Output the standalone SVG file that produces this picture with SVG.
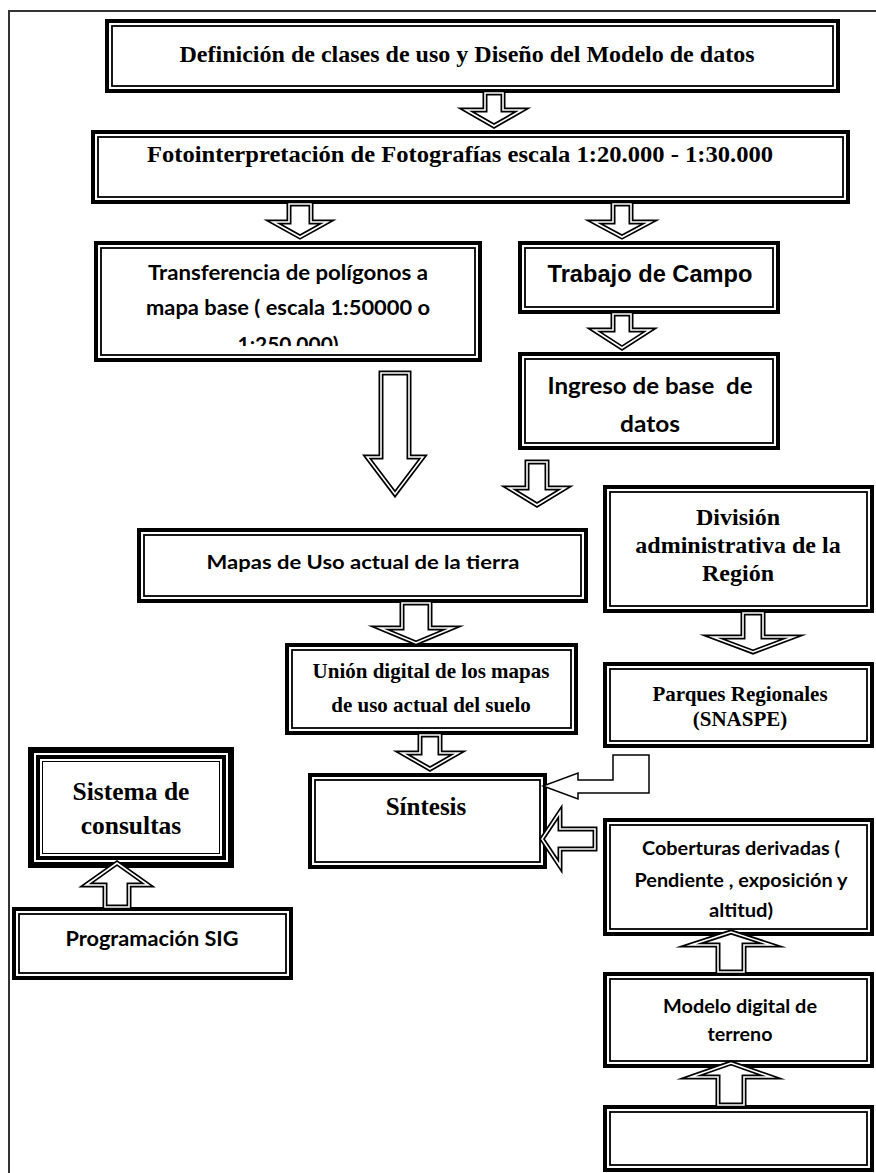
<svg xmlns="http://www.w3.org/2000/svg" width="876" height="1173" viewBox="0 0 876 1173">
<style>
.frame{stroke:#333;stroke-width:2;fill:none}
.bo{fill:#fff;stroke:#000;stroke-width:4}
.bi{fill:none;stroke:#000;stroke-width:1.8}
.ao{fill:#fff;stroke:#000;stroke-width:5;stroke-linejoin:miter;stroke-miterlimit:10}
.ai{fill:none;stroke:#fff;stroke-width:1.6;stroke-linejoin:miter;stroke-miterlimit:10}
.hk{fill:#fff;stroke:#000;stroke-width:1.5}
.ts{font-family:"Liberation Serif","Times New Roman",serif;font-weight:bold;fill:#000;text-anchor:middle}
.tc{font-family:Lato,"Open Sans",sans-serif;font-weight:bold;fill:#000;text-anchor:middle}
.ta{font-family:"Liberation Sans",Arial,sans-serif;font-weight:bold;fill:#000;text-anchor:middle}
</style>
<defs>
<clipPath id="c3"><rect x="101" y="248" width="374" height="98"/></clipPath>
</defs>
<path class="frame" d="M8,11H876M9,11V1173"/>

<g id="n1"><rect class="bo" x="107" y="21" width="731" height="70"/><rect class="bi" x="112" y="26" width="721" height="60"/>
<text class="ts" x="467" y="62" font-size="24" textLength="575" lengthAdjust="spacingAndGlyphs">Definición de clases de uso y Diseño del Modelo de datos</text></g>

<g id="n2"><rect class="bo" x="93" y="132" width="755" height="70"/><rect class="bi" x="98" y="137" width="745" height="60"/>
<text class="ts" x="460" y="162" font-size="24" textLength="626" lengthAdjust="spacingAndGlyphs">Fotointerpretación de Fotografías escala 1:20.000 - 1:30.000</text></g>

<g id="n3"><rect class="bo" x="96" y="243" width="384" height="117"/><rect class="bi" x="101" y="248" width="374" height="107"/>
<text class="tc" x="288" y="280" font-size="21" textLength="280" lengthAdjust="spacingAndGlyphs">Transferencia de polígonos a</text>
<text class="tc" x="288" y="315" font-size="21" textLength="284" lengthAdjust="spacingAndGlyphs">mapa base ( escala 1:50000 o</text>
<text class="tc" x="288" y="352" font-size="21" textLength="101" lengthAdjust="spacingAndGlyphs" clip-path="url(#c3)">1:250.000)</text></g>

<g id="n4"><rect class="bo" x="520" y="243" width="258" height="69"/><rect class="bi" x="525" y="248" width="248" height="59"/>
<text class="ta" x="650" y="282" font-size="24" textLength="205" lengthAdjust="spacingAndGlyphs">Trabajo de Campo</text></g>

<g id="n5"><rect class="bo" x="520" y="354" width="258" height="94"/><rect class="bi" x="525" y="359" width="248" height="84"/>
<text class="tc" x="650" y="394" font-size="22" textLength="205" lengthAdjust="spacingAndGlyphs">Ingreso de base&#160; de</text>
<text class="tc" x="650" y="432" font-size="22" textLength="60" lengthAdjust="spacingAndGlyphs">datos</text></g>

<g id="n6"><rect class="bo" x="139" y="530" width="447" height="71"/><rect class="bi" x="144" y="535" width="437" height="61"/>
<text class="tc" x="363" y="569" font-size="19.5" textLength="313" lengthAdjust="spacingAndGlyphs">Mapas de Uso actual de la tierra</text></g>

<g id="n7"><rect class="bo" x="605" y="487" width="267" height="124"/><rect class="bi" x="610" y="492" width="257" height="114"/>
<text class="ts" x="738" y="525" font-size="24">División</text>
<text class="ts" x="738" y="553" font-size="24">administrativa de la</text>
<text class="ts" x="738" y="581" font-size="24">Región</text></g>

<g id="n8"><rect class="bo" x="605" y="664" width="267" height="82"/><rect class="bi" x="610" y="669" width="257" height="72"/>
<text class="ts" x="740" y="701" font-size="21">Parques Regionales</text>
<text class="ts" x="740" y="726" font-size="21">(SNASPE)</text></g>

<g id="n9"><rect class="bo" x="287" y="645" width="289" height="88"/><rect class="bi" x="292" y="650" width="279" height="78"/>
<text class="ts" x="431" y="678" font-size="21">Unión digital de los mapas</text>
<text class="ts" x="431" y="712" font-size="21">de uso actual del suelo</text></g>

<g id="n10"><rect class="bo" x="310" y="775" width="235" height="92"/><rect class="bi" x="315" y="780" width="225" height="82"/>
<text class="ts" x="426" y="815" font-size="25">Síntesis</text></g>

<g id="n11"><rect fill="#fff" stroke="#000" stroke-width="6" x="31" y="750" width="200" height="115"/>
<rect fill="none" stroke="#000" stroke-width="4" x="38" y="757" width="186" height="101"/>
<rect fill="none" stroke="#000" stroke-width="1" x="42.5" y="761.5" width="177" height="92"/>
<text class="ts" x="131" y="800" font-size="25.5">Sistema de</text>
<text class="ts" x="131" y="834" font-size="25.5">consultas</text></g>

<g id="n12"><rect class="bo" x="14" y="909" width="277" height="69"/><rect class="bi" x="19" y="914" width="267" height="59"/>
<text class="tc" x="152" y="946" font-size="21" textLength="173" lengthAdjust="spacingAndGlyphs">Programación SIG</text></g>

<g id="n13"><rect class="bo" x="605" y="820" width="267" height="114"/><rect class="bi" x="610" y="825" width="257" height="104"/>
<text class="tc" x="741" y="855" font-size="18.5" textLength="198" lengthAdjust="spacingAndGlyphs">Coberturas derivadas (</text>
<text class="tc" x="741" y="887" font-size="18.5" textLength="213" lengthAdjust="spacingAndGlyphs">Pendiente , exposición y</text>
<text class="tc" x="741" y="917" font-size="18.5" textLength="64" lengthAdjust="spacingAndGlyphs">altitud)</text></g>

<g id="n14"><rect class="bo" x="605" y="974" width="267" height="92"/><rect class="bi" x="610" y="979" width="257" height="82"/>
<text class="tc" x="740" y="1013" font-size="18.5" textLength="154" lengthAdjust="spacingAndGlyphs">Modelo digital de</text>
<text class="tc" x="740" y="1041" font-size="18.5" textLength="65" lengthAdjust="spacingAndGlyphs">terreno</text></g>

<g id="n15"><rect class="bo" x="605" y="1107" width="267" height="63"/><rect class="bi" x="610" y="1112" width="257" height="53"/></g>

<g id="connectors">
<polygon class="ao" points="485,93 503,93 503,110 522,110 494,126 466,110 485,110"/>
<polygon class="ai" points="485,93 503,93 503,110 522,110 494,126 466,110 485,110"/>
<polygon class="ao" points="289,204 311,204 311,222 327,222 300,237 273,222 289,222"/>
<polygon class="ai" points="289,204 311,204 311,222 327,222 300,237 273,222 289,222"/>
<polygon class="ao" points="613,204 631,204 631,222 650,222 622,237 594,222 613,222"/>
<polygon class="ai" points="613,204 631,204 631,222 650,222 622,237 594,222 613,222"/>
<polygon class="ao" points="613,314 631,314 631,330 650,330 622,348 594,330 613,330"/>
<polygon class="ai" points="613,314 631,314 631,330 650,330 622,348 594,330 613,330"/>
<polygon class="ao" points="381,373 409,373 409,457 423,457 395,494 367,457 381,457"/>
<polygon class="ai" points="381,373 409,373 409,457 423,457 395,494 367,457 381,457"/>
<polygon class="ao" points="527,462 547,462 547,488 565,488 537,505 509,488 527,488"/>
<polygon class="ai" points="527,462 547,462 547,488 565,488 537,505 509,488 527,488"/>
<polygon class="ao" points="743,613 763,613 763,637 793,637 753,652 713,637 743,637"/>
<polygon class="ai" points="743,613 763,613 763,637 793,637 753,652 713,637 743,637"/>
<polygon class="ao" points="402,603 430,603 430,628 452,628 416,643 380,628 402,628"/>
<polygon class="ai" points="402,603 430,603 430,628 452,628 416,643 380,628 402,628"/>
<polygon class="ao" points="420,735 440,735 440,753 458,753 430,769 402,753 420,753"/>
<polygon class="ai" points="420,735 440,735 440,753 458,753 430,769 402,753 420,753"/>
<polygon class="ao" points="105,907 129,907 129,885 148,885 117,863 86,885 105,885"/>
<polygon class="ai" points="105,907 129,907 129,885 148,885 117,863 86,885 105,885"/>
<polygon class="ao" points="718,972 744,972 744,945 771,945 731,932 691,945 718,945"/>
<polygon class="ai" points="718,972 744,972 744,945 771,945 731,932 691,945 718,945"/>
<polygon class="ao" points="718,1105 744,1105 744,1077 771,1077 731,1063 691,1077 718,1077"/>
<polygon class="ai" points="718,1105 744,1105 744,1077 771,1077 731,1063 691,1077 718,1077"/>
<polygon class="ao" points="595,829 560,829 560,812 542,839 560,866 560,849 595,849"/>
<polygon class="ai" points="595,829 560,829 560,812 542,839 560,866 560,849 595,849"/>
<polygon class="hk" points="613,755 649,755 649,793 578,793 578,799 543,786 578,773 578,780 613,780"/>
</g>
</svg>
